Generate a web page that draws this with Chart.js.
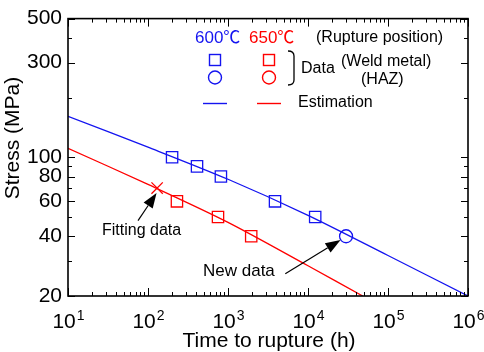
<!DOCTYPE html>
<html>
<head>
<meta charset="utf-8">
<script src="https://cdn.jsdelivr.net/npm/chart.js@4.4.1/dist/chart.umd.min.js"></script>
<style>
html, body { margin: 0; padding: 0; background: #fff; }
</style>
</head>
<body>
<canvas id="myChart" width="484" height="352"></canvas>
<script>
// creep rupture data
var weld600T = [200, 410, 815, 3870, 12300];
var weld600S = [100, 90, 80, 60, 50];
var haz600T = [29900];
var haz600S = [40];
var weld650T = [230, 750, 1950];
var weld650S = [60, 50, 40];
var fit650T = [130];
var fit650S = [70];

// estimation curves
var est600T = [10, 100, 1000, 10000, 100000, 1000000];
var est600S = [161, 112.5, 77.5, 51, 32, 20];
var est650T = [10, 100, 1000, 10000, 48300];
var est650S = [111, 73, 47, 28.4, 20];

// axes
var yTicks = [20, 30, 40, 50, 60, 70, 80, 90, 100, 200, 300, 400, 500];
var yLabels = [20, 40, 60, 80, 100, 300, 500];
var xDecades = [1, 2, 3, 4, 5, 6];

var BLUE = 'rgb(20,20,240)';
var RED = 'rgb(255,0,0)';
var FONT = '"Liberation Sans", Arial, "Noto Sans CJK JP", sans-serif';

function pts(xs, ys) {
    return xs.map(function (x, i) { return { x: x, y: ys[i] }; });
}

function arrow(c, x1, y1, x2, y2) {
    var ang = Math.atan2(y2 - y1, x2 - x1);
    var hl = 15, hw = 5.5;
    var bx = x2 - hl * Math.cos(ang), by = y2 - hl * Math.sin(ang);
    c.beginPath();
    c.moveTo(x1, y1);
    c.lineTo(bx, by);
    c.stroke();
    c.beginPath();
    c.moveTo(x2, y2);
    c.lineTo(bx + hw * Math.sin(ang), by - hw * Math.cos(ang));
    c.lineTo(bx - hw * Math.sin(ang), by + hw * Math.cos(ang));
    c.closePath();
    c.fill();
}

// frame, inward ticks, exponent labels, titles, legend and notes
var overlay = {
    id: 'overlay',
    afterDraw: function (chart) {
        var c = chart.ctx, a = chart.chartArea;
        var xs = chart.scales.x, ys = chart.scales.y;
        c.save();
        c.strokeStyle = '#000';
        c.fillStyle = '#000';

        c.lineWidth = 1;
        c.beginPath();
        xDecades.forEach(function (d) {
            for (var m = 1; m <= 9; m++) {
                if (d == 6 && m > 1) break;
                var px = Math.round(xs.getPixelForValue(m * Math.pow(10, d))) + 0.5;
                var len = m == 1 ? 8 : 4;
                c.moveTo(px, a.bottom); c.lineTo(px, a.bottom - len);
                c.moveTo(px, a.top); c.lineTo(px, a.top + len);
            }
        });
        yTicks.forEach(function (v) {
            var py = Math.round(ys.getPixelForValue(v)) + 0.5;
            var len = yLabels.indexOf(v) >= 0 ? 7 : 4;
            c.moveTo(a.left, py); c.lineTo(a.left + len, py);
            c.moveTo(a.right, py); c.lineTo(a.right - len, py);
        });
        c.stroke();

        c.lineWidth = 1.6;
        c.strokeRect(a.left, a.top, a.right - a.left, a.bottom - a.top);

        // x tick labels 10^n
        c.textBaseline = 'alphabetic';
        xDecades.forEach(function (d) {
            var px = xs.getPixelForValue(Math.pow(10, d));
            c.font = '21px ' + FONT;
            var w1 = c.measureText('10').width;
            c.font = '14px ' + FONT;
            var w2 = c.measureText(String(d)).width;
            var x0 = px - (w1 + w2) / 2;
            c.font = '21px ' + FONT;
            c.textAlign = 'left';
            c.fillText('10', x0, 328);
            c.font = '14px ' + FONT;
            c.fillText(String(d), x0 + w1 + 1, 320);
        });

        // axis titles
        c.font = '21px ' + FONT;
        c.textAlign = 'center';
        c.fillText('Time to rupture (h)', 269, 347);
        c.save();
        c.translate(19, 138);
        c.rotate(-Math.PI / 2);
        c.fillText('Stress (MPa)', 0, 0);
        c.restore();

        // legend
        c.textAlign = 'left';
        c.textBaseline = 'middle';
        c.font = '17px ' + FONT;
        c.fillStyle = BLUE;
        c.fillText('600℃', 195, 38);
        c.fillStyle = RED;
        c.fillText('650℃', 249, 38);
        c.fillStyle = '#000';
        c.font = '16px ' + FONT;
        c.fillText('(Rupture position)', 316, 38);
        c.fillText('Data', 301, 69);
        c.fillText('(Weld metal)', 341, 62);
        c.fillText('(HAZ)', 361, 80);
        c.fillText('Estimation', 298, 103);

        c.lineWidth = 1.4;
        [[215, BLUE], [269, RED]].forEach(function (e) {
            c.strokeStyle = e[1];
            c.strokeRect(e[0] - 5.5, 54.5, 11, 11);
            c.beginPath();
            c.arc(e[0], 77.5, 6.5, 0, Math.PI * 2);
            c.stroke();
            c.beginPath();
            c.moveTo(e[0] - 12, 103.5);
            c.lineTo(e[0] + 12, 103.5);
            c.stroke();
        });

        c.strokeStyle = '#000';
        c.lineWidth = 1.3;
        c.beginPath();
        c.moveTo(288, 51);
        c.quadraticCurveTo(294, 51, 294, 56);
        c.lineTo(294, 80);
        c.quadraticCurveTo(294, 85, 288, 85);
        c.stroke();

        // notes with arrows
        c.font = '16px ' + FONT;
        c.fillText('Fitting data', 102, 231);
        c.font = '17px ' + FONT;
        c.fillText('New data', 203, 271);
        c.lineWidth = 1.2;
        arrow(c, xs.getPixelForValue(75), ys.getPixelForValue(48),
            xs.getPixelForValue(128), ys.getPixelForValue(66));
        arrow(c, xs.getPixelForValue(5200), ys.getPixelForValue(25.9),
            xs.getPixelForValue(25500), ys.getPixelForValue(38.3));
        c.restore();
    }
};

var ctx = document.getElementById('myChart');

var data = {
    datasets: [
        {
            data: pts(est600T, est600S),
            showLine: true,
            borderColor: BLUE,
            borderWidth: 1.3,
            pointRadius: 0,
            tension: 0.3
        },
        {
            data: pts(est650T, est650S),
            showLine: true,
            borderColor: RED,
            borderWidth: 1.3,
            pointRadius: 0,
            tension: 0.3
        },
        {
            data: pts(weld600T, weld600S),
            pointStyle: 'rect',
            pointRadius: 8,
            borderColor: BLUE,
            backgroundColor: 'transparent',
            pointBorderWidth: 1.3
        },
        {
            data: pts(haz600T, haz600S),
            pointStyle: 'circle',
            pointRadius: 6.5,
            borderColor: BLUE,
            backgroundColor: 'transparent',
            pointBorderWidth: 1.3
        },
        {
            data: pts(weld650T, weld650S),
            pointStyle: 'rect',
            pointRadius: 8,
            borderColor: RED,
            backgroundColor: 'transparent',
            pointBorderWidth: 1.3
        },
        {
            data: pts(fit650T, fit650S),
            pointStyle: 'crossRot',
            pointRadius: 8,
            borderColor: RED,
            pointBorderWidth: 1.3
        }
    ]
};

var options = {
    responsive: false,
    animation: false,
    layout: {
        padding: { top: 12, right: 16, left: 0, bottom: 0 }
    },
    plugins: {
        legend: { display: false },
        tooltip: { enabled: false }
    },
    scales: {
        x: {
            type: 'logarithmic',
            min: 10,
            max: 1000000,
            grid: { display: false, drawTicks: false },
            border: { display: false },
            ticks: { display: false },
            afterFit: function (ax) { ax.height = 56; }
        },
        y: {
            type: 'logarithmic',
            min: 20,
            max: 500,
            grid: { display: false, drawTicks: false },
            border: { display: false },
            afterBuildTicks: function (ax) {
                ax.ticks = yTicks.map(function (v) { return { value: v }; });
            },
            afterFit: function (ax) { ax.width = 68; },
            ticks: {
                autoSkip: false,
                padding: 6,
                color: '#000',
                font: { family: FONT, size: 21 },
                callback: function (v) {
                    return yLabels.indexOf(v) >= 0 ? String(v) : '';
                }
            }
        }
    }
};

var myChart = new Chart(ctx, {
    type: 'scatter',
    data: data,
    options: options,
    plugins: [overlay]
});
</script>
</body>
</html>
